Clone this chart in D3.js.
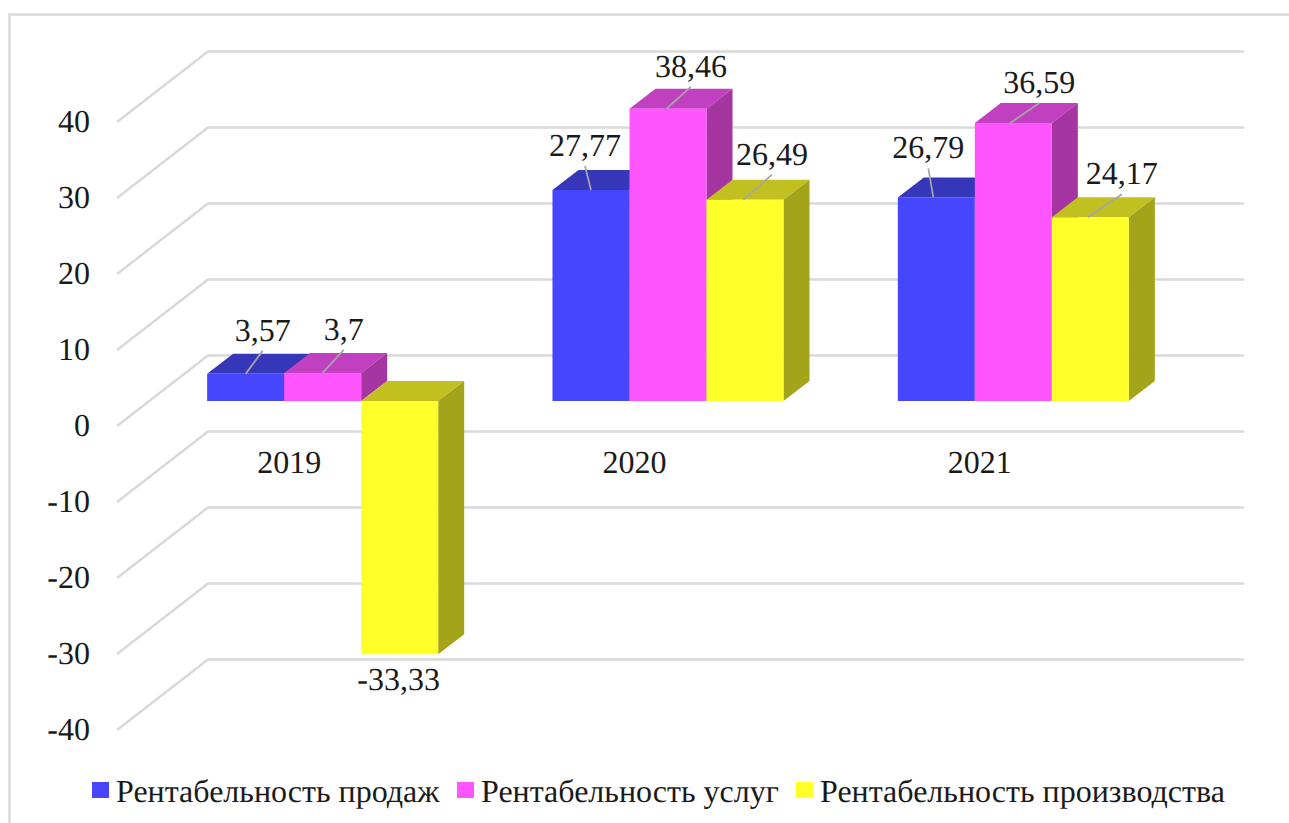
<!DOCTYPE html>
<html><head><meta charset="utf-8">
<script src="https://cdn.jsdelivr.net/npm/d3@7/dist/d3.min.js"></script>
<style>html,body{margin:0;padding:0;background:#fff;overflow:hidden}svg{display:block}
text{font-family:"Liberation Serif",serif;fill:#1a1a1a;text-rendering:geometricPrecision}</style></head><body>
<svg id="c" width="1289" height="823"></svg>
<script>
const categories = ["2019","2020","2021"];
const seriesNames = ["Рентабельность продаж","Рентабельность услуг","Рентабельность производства"];
const prodazh = [3.57,27.77,26.79];
const uslug = [3.7,38.46,36.59];
const proizv = [-33.33,26.49,24.17];
const yTicks = [-40,-30,-20,-10,0,10,20,30,40];
// layout: label anchor relative to bar top centre [dx, dy], leader foot shift
const labelNudge = [
  [[17,-23,0],[21,-23,0],[-1,36,0]],
  [[-6,-24,0],[23,-22,-1.5],[27,-25,-1.5]],
  [[-8,-29,-3],[26,-20,-3],[31.5,-23,-2.5]]
];
const palette = [
  {front:"#4646ff",top:"#3636b8",side:"#2f2fa0"},
  {front:"#ff55ff",top:"#c040c0",side:"#a535a0"},
  {front:"#ffff2a",top:"#c2c020",side:"#a4a41a"}
];
const fmt = v => String(v).replace(".",",");
const svg = d3.select("#c");
const y = d3.scaleLinear().domain([-40,40]).range([730,122]);
const wall = {dx:91,dy:-70.5}, mid = {dx:33,dy:-25}, depth = {dx:26,dy:-20};
const frontL = 117, frontR = 1153;
const x0 = d3.scaleBand().domain(categories).range([frontL+mid.dx,frontR+mid.dx]).paddingInner(0.331).paddingOuter(0.1655);
const x1 = d3.scaleBand().domain([0,1,2]).range([0,x0.bandwidth()]);
const xFront = d3.scaleBand().domain(categories).range([frontL,frontR]);

// frame
svg.append("path").attr("d","M9.5,823V14.5H1289").attr("fill","none").attr("stroke","#d9d9d9").attr("stroke-width",2.5);

// gridlines (floor-to-wall)
const grid = svg.append("g").attr("fill","none").attr("stroke","#d9d9d9").attr("stroke-width",2.5);
yTicks.forEach(t=>{
  const p = d3.path();
  p.moveTo(frontL,y(t)); p.lineTo(frontL+wall.dx,y(t)+wall.dy); p.lineTo(frontR+wall.dx,y(t)+wall.dy);
  grid.append("path").attr("d",p.toString());
});

// y axis
const ax = svg.append("g").attr("transform","translate(90,0)")
  .call(d3.axisLeft(y).tickValues(yTicks).tickSize(0).tickPadding(0).tickFormat(d=>String(d)));
ax.select(".domain").remove();
ax.selectAll("text").attr("font-size",32).attr("font-family","Liberation Serif").attr("fill","#1a1a1a").attr("dy","0.31em");

// bars
const seriesVals = [prodazh,uslug,proizv];
const y0 = y(0)+mid.dy;
const by = v => y(v)+mid.dy;
categories.forEach((c,ci)=>{
  seriesVals.forEach((vals,si)=>{
    const v = vals[ci], xl = x0(c)+x1(si), w = x1.bandwidth(), col = palette[si];
    const t = Math.min(by(v),y0), b = Math.max(by(v),y0);
    const g = svg.append("g");
    g.append("polygon").attr("fill",col.top)
     .attr("points",[[xl,t],[xl+depth.dx,t+depth.dy],[xl+w+depth.dx,t+depth.dy],[xl+w,t]].join(" "));
    g.append("polygon").attr("fill",col.side)
     .attr("points",[[xl+w,t],[xl+w+depth.dx,t+depth.dy],[xl+w+depth.dx,b+depth.dy],[xl+w,b]].join(" "));
    g.append("rect").attr("x",xl).attr("y",t).attr("width",w).attr("height",b-t).attr("fill",col.front);
  });
});
// labels & leaders
categories.forEach((c,ci)=>{
  seriesVals.forEach((vals,si)=>{
    const v = vals[ci], cx = x0(c)+x1(si)+x1.bandwidth()/2, ty = by(v);
    const [dx,dy,foot] = labelNudge[ci][si];
    if(v>=0) svg.append("line").attr("x1",cx+foot).attr("y1",ty).attr("x2",cx+dx).attr("y2",ty+dy)
      .attr("stroke","#a6a6a6").attr("stroke-width",1.75);
    svg.append("text").attr("x",cx+dx).attr("y",v>=0?ty+dy-10:ty+dy).attr("text-anchor","middle")
      .attr("font-size",32).text(fmt(v));
  });
  svg.append("text").attr("x",xFront(c)+xFront.bandwidth()/2-0.5).attr("y",473).attr("text-anchor","middle")
    .attr("font-size",32).text(c);
});
// legend
const legX = d3.scaleOrdinal().domain(seriesNames).range([92,457,796]);
seriesNames.forEach((n,i)=>{
  svg.append("rect").attr("x",legX(n)).attr("y",782).attr("width",17).attr("height",16).attr("fill",palette[i].front);
  svg.append("text").attr("x",legX(n)+24).attr("y",802).attr("font-size",32).text(n);
});
</script></body></html>
